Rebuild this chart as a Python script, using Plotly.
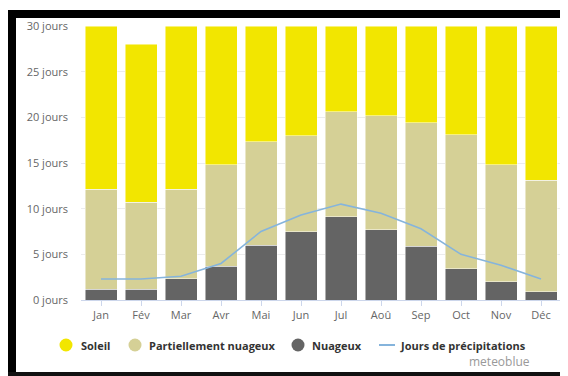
import plotly.graph_objects as go

months = ["Jan", "Fév", "Mar", "Avr", "Mai", "Jun", "Jul", "Aoû", "Sep", "Oct", "Nov", "Déc"]
total_days = [30, 28, 30, 30, 30, 30, 30, 30, 30, 30, 30, 30]
nuageux = [1.2, 1.2, 2.3, 3.7, 6.0, 7.5, 9.1, 7.7, 5.9, 3.4, 2.0, 0.9]
partiel_top = [12.1, 10.7, 12.1, 14.8, 17.3, 18.0, 20.6, 20.2, 19.4, 18.1, 14.8, 13.1]
precip = [2.3, 2.3, 2.6, 4.0, 7.5, 9.3, 10.5, 9.5, 7.8, 5.0, 3.8, 2.3]
y_ticks = [0, 5, 10, 15, 20, 25, 30]
y_tick_labels = ["0 jours", "5 jours", "10 jours", "15 jours", "20 jours", "25 jours", "30 jours"]
legend_names = ["Soleil", "Partiellement nuageux", "Nuageux", "Jours de précipitations"]

partiel = [round(p - n, 2) for p, n in zip(partiel_top, nuageux)]
soleil = [round(t - p, 2) for t, p in zip(total_days, partiel_top)]

C_SUN = "#f2e600"
C_PART = "#d5d096"
C_CLOUD = "#646464"
C_RAIN = "#85b4dc"

# the page body has an 8px margin, so the figure is sized to fit inside the window
OFF = 8
W, H = 560, 368
ML, MR, MT, MB = 73, 7, 18, 76
PW, PH = W - ML - MR, H - MT - MB


def px(x):
    """page x pixel -> paper coordinate"""
    return (x - OFF - ML) / PW


def py(y):
    """page y pixel -> paper coordinate"""
    return (H - MB - (y - OFF)) / PH


fig = go.Figure()
bar_line = dict(color="rgba(255,255,255,0.8)", width=0.6)
fig.add_trace(go.Bar(x=months, y=nuageux, marker=dict(color=C_CLOUD, line=bar_line), name="Nuageux"))
fig.add_trace(go.Bar(x=months, y=partiel, marker=dict(color=C_PART, line=bar_line), name="Partiellement nuageux"))
fig.add_trace(go.Bar(x=months, y=soleil, marker=dict(color=C_SUN, line=bar_line), name="Soleil"))
fig.add_trace(go.Scatter(x=months, y=precip, mode="lines",
                         line=dict(color=C_RAIN, width=1.6), name="Jours de précipitations"))

# legend (drawn manually for compact layout)
leg_y = 345
leg_items = [(legend_names[0], C_SUN, 66, 79, "circle"),
             (legend_names[1], C_PART, 135, 147, "circle"),
             (legend_names[2], C_CLOUD, 298, 310, "circle"),
             (legend_names[3], C_RAIN, 387, 398, "line")]
shapes = []
annotations = []
for name, col, cx, tx, kind in leg_items:
    if kind == "circle":
        r = 6.5
        shapes.append(dict(type="circle", xref="paper", yref="paper",
                           x0=px(cx - r), x1=px(cx + r), y0=py(leg_y + r), y1=py(leg_y - r),
                           fillcolor=col, line=dict(width=0)))
    else:
        shapes.append(dict(type="line", xref="paper", yref="paper",
                           x0=px(cx - 8), x1=px(cx + 8), y0=py(leg_y), y1=py(leg_y),
                           line=dict(color=col, width=2)))
    annotations.append(dict(text="<b>%s</b>" % name, xref="paper", yref="paper",
                            x=px(tx), y=py(leg_y), xanchor="left", yanchor="middle",
                            showarrow=False,
                            font=dict(family="Open Sans", size=11, color="#333333")))

annotations.append(dict(text="meteoblue", xref="paper", yref="paper", x=px(532), y=py(361),
                        xanchor="right", yanchor="middle", showarrow=False,
                        font=dict(family="Open Sans", size=12, color="#999999")))

# black frame
shapes += [
    dict(type="rect", xref="paper", yref="paper", x0=px(8), x1=px(16), y0=py(376), y1=py(10),
         fillcolor="black", line=dict(width=0), layer="above"),
    dict(type="rect", xref="paper", yref="paper", x0=px(8), x1=px(570), y0=py(18), y1=py(10),
         fillcolor="black", line=dict(width=0), layer="above"),
    dict(type="rect", xref="paper", yref="paper", x0=px(8), x1=px(570), y0=py(376), y1=py(372),
         fillcolor="#111111", line=dict(width=0), layer="above"),
]

fig.update_layout(
    width=W, height=H,
    margin=dict(l=ML, r=MR, t=MT, b=MB, autoexpand=False),
    paper_bgcolor="white", plot_bgcolor="white",
    barmode="stack", bargap=0.2,
    font=dict(family="Open Sans", size=11, color="#666666"),
    showlegend=False,
    xaxis=dict(categoryorder="array", categoryarray=months, showgrid=False,
               showline=True, linecolor="#ccd6eb", linewidth=1,
               ticks="outside", ticklen=5, tickcolor="#ccd6eb",
               tickfont=dict(size=11, color="#666666")),
    yaxis=dict(range=[0, 30], tickvals=y_ticks, ticktext=y_tick_labels,
               showgrid=True, gridcolor="#ececec", gridwidth=1, zeroline=False,
               showline=False, ticklabelstandoff=12,
               tickfont=dict(size=11, color="#666666")),
    annotations=annotations,
    shapes=shapes,
)

fig.write_html("out.html")
